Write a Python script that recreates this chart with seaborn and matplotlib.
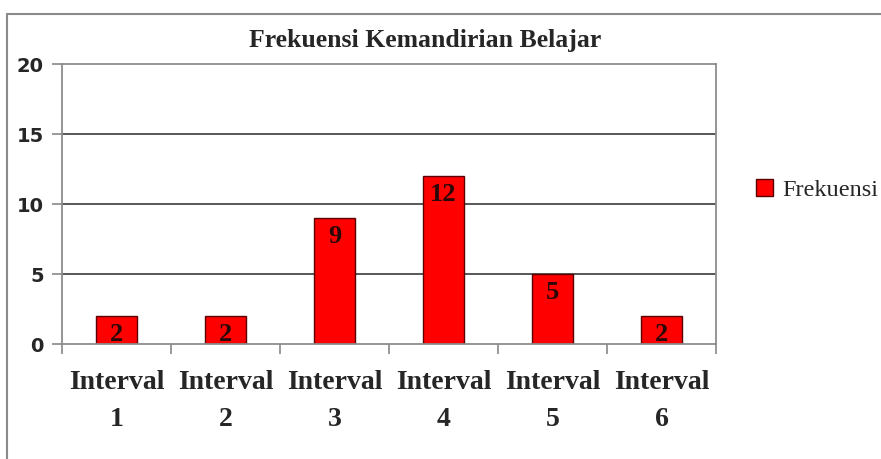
import matplotlib
matplotlib.use("Agg")
import matplotlib.pyplot as plt
import seaborn as sns
import pandas as pd
from matplotlib.patches import Patch
from matplotlib.lines import Line2D

categories = ["Interval\n1", "Interval\n2", "Interval\n3", "Interval\n4", "Interval\n5", "Interval\n6"]
values = [2, 2, 9, 12, 5, 2]
yticks = [0, 5, 10, 15, 20]
title = "Frekuensi Kemandirian Belajar"
series_name = "Frekuensi"

sns.set_style("white")
plt.rcParams['font.family'] = ['Liberation Serif', 'DejaVu Serif']

df = pd.DataFrame({"cat": categories, "val": values})

fig = plt.figure(figsize=(8.81, 4.59), dpi=100)
ax = fig.add_axes([62/881, 1 - 344/459, (716 - 62)/881, (344 - 64)/459])

sns.barplot(data=df, x="cat", y="val", color="#ff0000", width=0.37,
            edgecolor="#5a0000", linewidth=1.0, saturation=1, ax=ax)

ax.set_xlim(-0.5, 5.5)
ax.set_ylim(0, 20)
ax.set_yticks(yticks)
ax.set_yticklabels([str(t) for t in yticks], family="DejaVu Sans", fontweight="bold", fontsize=14)
ax.set_xlabel("")
ax.set_ylabel("")
ax.set_xticks(range(len(categories)))
ax.set_xticklabels(categories, fontsize=20, fontweight="bold", linespacing=1.6)
ax.tick_params(axis="x", which="major", length=0, pad=19)
ax.set_xticks([i - 0.5 for i in range(len(categories) + 1)], minor=True)
ax.tick_params(axis="x", which="minor", bottom=True, length=7, direction="out", color="#888888", width=1.2)
ax.tick_params(axis="y", left=True, length=7, direction="out", color="#888888", width=1.2, pad=6)

for y in [5, 10, 15]:
    ax.axhline(y, color="#2a2a2a", lw=1.1, zorder=0)
for s in ax.spines.values():
    s.set_color("#8c8c8c")
    s.set_linewidth(1.3)

for i, v in enumerate(values):
    ax.annotate(str(v), (i, v), xytext=(0, -13), textcoords="offset points",
                ha="center", va="center", fontsize=19, fontweight="bold", color="#2a0808")

fig.text(425/881, 1 - 40/459, title, ha="center", va="center", fontsize=18.5, fontweight="bold")

handles = [Patch(facecolor="#ff0000", edgecolor="#5a0000", label=series_name)]
fig.legend(handles=handles, loc="center left", bbox_to_anchor=(734/881, 1 - 190/459),
           frameon=False, fontsize=17.5, handlelength=0.7, handleheight=0.7, handletextpad=0.4)

fig.add_artist(Line2D([7/881, 7/881], [0, 1 - 14/459], transform=fig.transFigure, color="#8a8a8a", lw=1.5))
fig.add_artist(Line2D([7/881, 1], [1 - 14/459, 1 - 14/459], transform=fig.transFigure, color="#8a8a8a", lw=1.5))

fig.savefig("out.png", dpi=100)
